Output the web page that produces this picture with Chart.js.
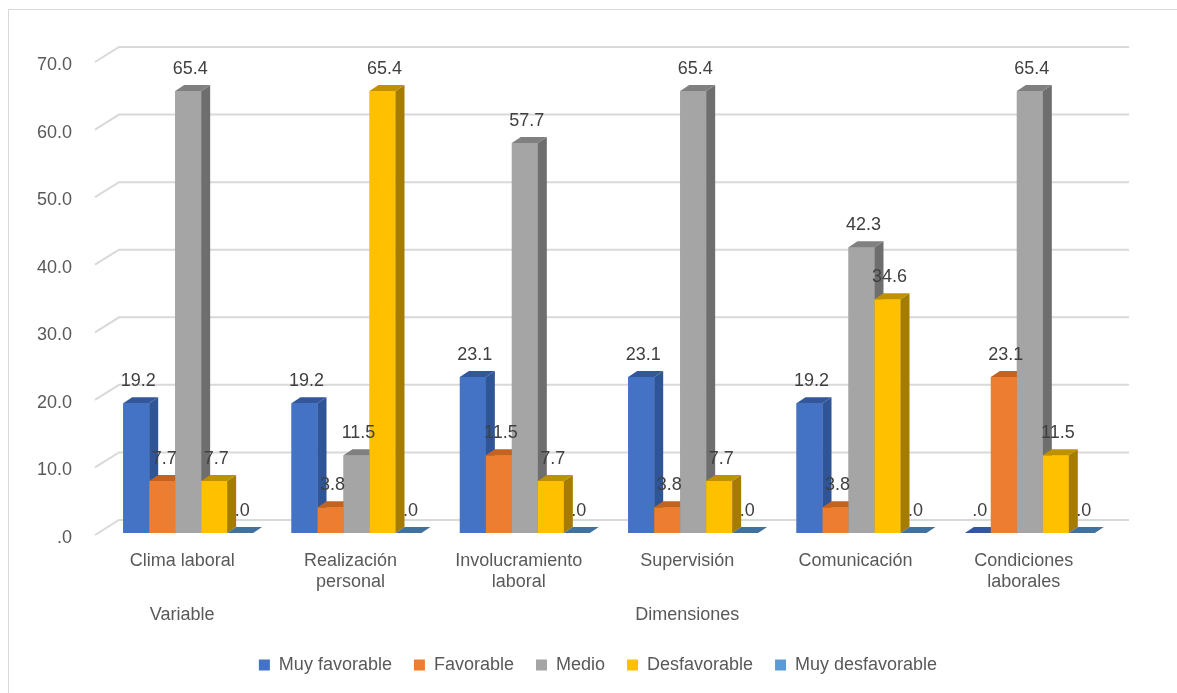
<!DOCTYPE html>
<html>
<head>
<meta charset="utf-8">
<style>
  html, body { margin: 0; padding: 0; background: #fff; }
  canvas { display: block; }
</style>
</head>
<body>
<canvas id="chart" width="1177" height="693"></canvas>
<script src="https://cdn.jsdelivr.net/npm/chart.js@4.4.1/dist/chart.umd.min.js"></script>
<script>
const categories = ['Clima laboral', ['Realización', 'personal'], ['Involucramiento', 'laboral'], 'Supervisión', 'Comunicación', ['Condiciones', 'laborales']];
const muyFavorable = [19.2, 19.2, 23.1, 23.1, 19.2, 0];
const favorable = [7.7, 3.8, 11.5, 3.8, 3.8, 23.1];
const medio = [65.4, 11.5, 57.7, 65.4, 42.3, 65.4];
const desfavorable = [7.7, 65.4, 7.7, 7.7, 34.6, 11.5];
const muyDesfavorable = [0, 0, 0, 0, 0, 0];
const seriesNames = ['Muy favorable', 'Favorable', 'Medio', 'Desfavorable', 'Muy desfavorable'];
const groupLabels = ['Variable', 'Dimensiones'];
const groupSpans = [[0, 0], [1, 5]];
const yTicks = [0, 10, 20, 30, 40, 50, 60, 70];

// front / side / top colours of the 3d bars
const frontColors = ['#4472C4', '#ED7D31', '#A5A5A5', '#FFC000', '#5B9BD5'];
const sideColors = ['#2F5597', '#B85A1B', '#6E6E6E', '#A67C00', '#3E72A6'];
const topColors = ['#33579B', '#C4621F', '#808080', '#BF9000', '#41729F'];

const DX = 9, DY = -6;
const fmt = v => v.toFixed(1).replace(/^0\./, '.');

Chart.defaults.font.family = "'Liberation Sans', Arial, sans-serif";
Chart.defaults.color = '#595959';

const bars3d = {
  id: 'bars3d',
  beforeDraw(chart) {
    const ctx = chart.ctx;
    ctx.save();
    ctx.strokeStyle = '#d9d9d9';
    ctx.lineWidth = 1;
    ctx.strokeRect(8.5, 9.5, 1300, 800);
    ctx.restore();
  },
  beforeDatasetsDraw(chart) {
    const { ctx, chartArea, scales: { y } } = chart;
    ctx.save();
    ctx.strokeStyle = '#d9d9d9';
    ctx.lineWidth = 2;
    yTicks.forEach(v => {
      const py = y.getPixelForValue(v);
      ctx.beginPath();
      ctx.moveTo(chartArea.left - 9, py + 2);
      ctx.lineTo(chartArea.left + 15, py - 13);
      ctx.lineTo(chartArea.right + 15, py - 13);
      ctx.stroke();
    });
    ctx.restore();
  },
  afterDatasetsDraw(chart) {
    const ctx = chart.ctx;
    ctx.save();
    chart.data.datasets.forEach((ds, i) => {
      chart.getDatasetMeta(i).data.forEach(bar => {
        const l = bar.x - bar.width / 2, r = bar.x + bar.width / 2;
        const t = bar.y, b = bar.base;
        ctx.fillStyle = frontColors[i];
        ctx.fillRect(l, t, r - l, b - t);
        ctx.fillStyle = sideColors[i];
        ctx.beginPath();
        ctx.moveTo(r, t); ctx.lineTo(r + DX, t + DY); ctx.lineTo(r + DX, b + DY); ctx.lineTo(r, b);
        ctx.closePath(); ctx.fill();
        ctx.fillStyle = topColors[i];
        ctx.beginPath();
        ctx.moveTo(l, t); ctx.lineTo(l + DX, t + DY); ctx.lineTo(r + DX, t + DY); ctx.lineTo(r, t);
        ctx.closePath(); ctx.fill();
      });
    });
    // value labels on top of everything
    ctx.fillStyle = '#404040';
    ctx.font = "18px 'Liberation Sans', Arial, sans-serif";
    ctx.textAlign = 'center';
    ctx.textBaseline = 'middle';
    chart.data.datasets.forEach((ds, i) => {
      chart.getDatasetMeta(i).data.forEach((bar, j) => {
        ctx.fillText(fmt(ds.data[j]), bar.x + 2, bar.y - 22);
      });
    });
    ctx.restore();
  },
  afterDraw(chart) {
    const { ctx, chartArea, scales: { x } } = chart;
    ctx.save();
    ctx.fillStyle = '#595959';
    ctx.font = "18px 'Liberation Sans', Arial, sans-serif";
    ctx.textAlign = 'center';
    ctx.textBaseline = 'middle';
    groupLabels.forEach((g, k) => {
      const [a, b] = groupSpans[k];
      const px = (x.getPixelForTick(a) + x.getPixelForTick(b)) / 2 - 6;
      ctx.fillText(g, px, chartArea.bottom + 82);
    });
    ctx.restore();
  }
};

const seriesData = [muyFavorable, favorable, medio, desfavorable, muyDesfavorable];

new Chart(document.getElementById('chart'), {
  type: 'bar',
  data: {
    labels: categories,
    datasets: seriesData.map((d, i) => ({
      label: seriesNames[i],
      data: d,
      backgroundColor: frontColors[i],
      borderWidth: 0,
      categoryPercentage: 0.772,
      barPercentage: 1
    }))
  },
  options: {
    responsive: false,
    animation: false,
    layout: { padding: { top: 60, left: 19, right: 0, bottom: 9 } },
    plugins: {
      legend: {
        position: 'bottom',
        labels: { boxWidth: 11, boxHeight: 11, padding: 22, color: '#595959', font: { size: 18 } }
      },
      tooltip: { enabled: false }
    },
    scales: {
      x: {
        ticks: { color: '#595959', font: { size: 18 }, padding: 9, labelOffset: -6, maxRotation: 0, autoSkip: false },
        grid: { display: false },
        border: { display: false },
        afterFit: s => { s.height = 101; }
      },
      y: {
        min: 0,
        max: 70,
        afterBuildTicks: s => { s.ticks = yTicks.map(v => ({ value: v })); },
        ticks: { callback: v => fmt(v), color: '#595959', font: { size: 18 }, padding: 24, labelOffset: 5 },
        grid: { display: false },
        border: { display: false },
        afterFit: s => { s.width = 85; }
      },
      // empty right axis, only keeps room on the right side of the plot
      spacer: {
        type: 'linear',
        position: 'right',
        display: true,
        ticks: { display: false },
        grid: { display: false },
        border: { display: false },
        afterFit: s => { s.width = 63; }
      }
    }
  },
  plugins: [bars3d]
});
</script>
</body>
</html>
